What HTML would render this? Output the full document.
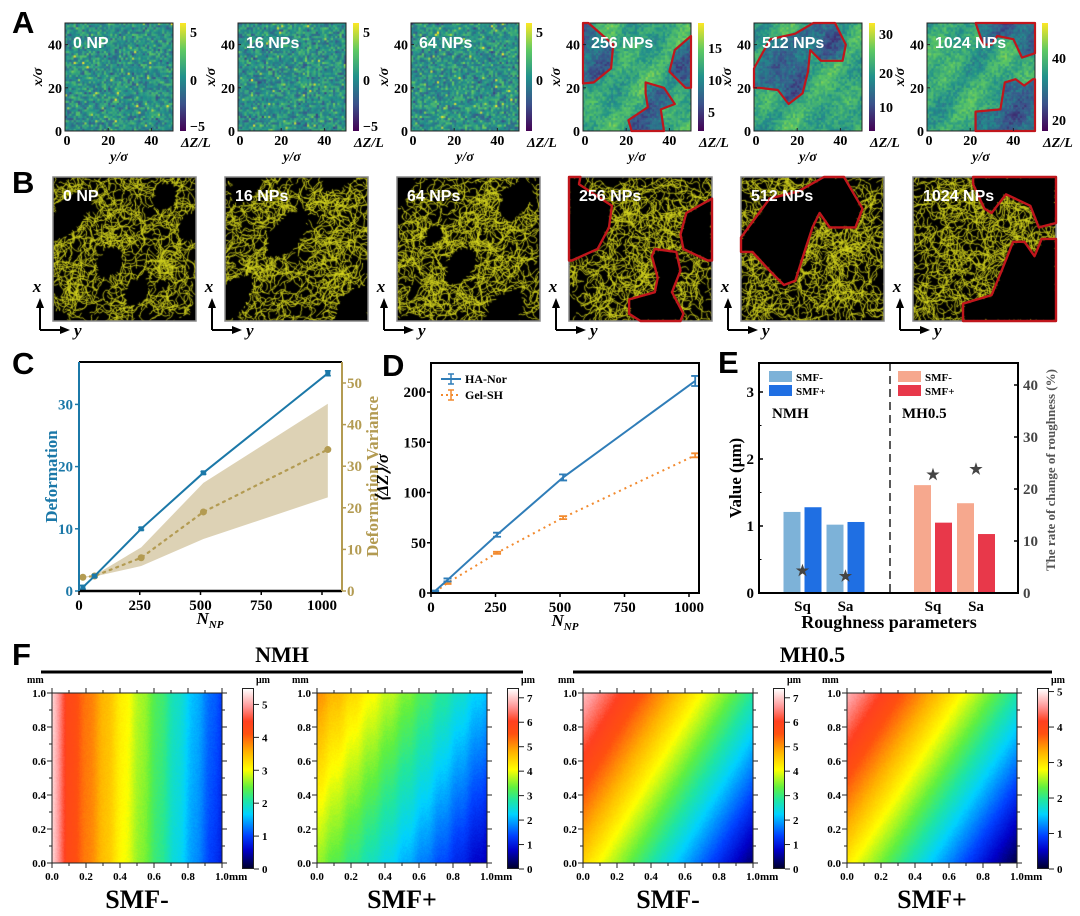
<!DOCTYPE html>
<html><head><meta charset="utf-8">
<style>
html,body{margin:0;padding:0;background:#fff;}
#root{position:relative;width:1080px;height:916px;overflow:hidden;background:#fff;}
canvas{position:absolute;}
svg{position:absolute;left:0;top:0;}
text{font-family:"Liberation Serif",serif;font-weight:bold;}
.lbl{font-family:"Liberation Sans",sans-serif;font-weight:bold;}
</style></head>
<body>
<div id="root">
<svg id="svg" width="1080" height="916"></svg>
</div>
<script>
// ===== Chart C data =====
const cN = [16, 64, 256, 512, 1024];
const cDeform = [0.6, 2.4, 10, 19, 35];
const cDeformErr = [0.3, 0.2, 0.2, 0.2, 0.4];
const cVar = [3.3, 3.6, 8, 19, 34];
const cVarLow = [3.2, 3.5, 6, 12.5, 22.5];
const cVarHigh = [3.4, 3.8, 10.5, 26, 45];
const cLeftTicks = [0, 10, 20, 30];
const cRightTicks = [0, 10, 20, 30, 40, 50];
const cXTicks = [0, 250, 500, 750, 1000];
// ===== Chart D data =====
const dN = [16, 64, 256, 512, 1024];
const dHA = [2, 13, 58, 115, 211];
const dHAErr = [0.5, 1.5, 2, 3, 5];
const dGel = [1, 10, 40, 75, 137];
const dGelErr = [0.5, 1, 1, 1.5, 2];
const dYTicks = [0, 50, 100, 150, 200];
const dXTicks = [0, 250, 500, 750, 1000];
// ===== Chart E data =====
const eCats = ["Sq", "Sa", "Sq", "Sa"];
const eSmfMinus = [1.21, 1.02, 1.61, 1.34];
const eSmfPlus = [1.28, 1.06, 1.05, 0.88];
const eRate = [4.5, 3.5, 23, 24];
const eLeftTicks = [0, 1, 2, 3];
const eRightTicks = [0, 10, 20, 30, 40];

const NS = "http://www.w3.org/2000/svg";
const svg = document.getElementById('svg');
const root = document.getElementById('root');
function el(tag, attrs, parent) {
  const e = document.createElementNS(NS, tag);
  for (const k in attrs) e.setAttribute(k, attrs[k]);
  (parent || svg).appendChild(e);
  return e;
}
function txt(x, y, s, size, opts, parent) {
  opts = opts || {};
  const t = el('text', {x: x, y: y, 'font-size': size, fill: opts.fill || '#000', 'text-anchor': opts.anchor || 'start'}, parent);
  if (opts.cls) t.setAttribute('class', opts.cls);
  if (opts.italic) t.setAttribute('font-style', 'italic');
  if (opts.rot) t.setAttribute('transform', 'rotate(' + opts.rot + ' ' + x + ' ' + y + ')');
  t.textContent = s;
  return t;
}
function mulberry(a) { return function() { a |= 0; a = a + 0x6D2B79F5 | 0; let t = Math.imul(a ^ a >>> 15, 1 | a); t = t + Math.imul(t ^ t >>> 7, 61 | t) ^ t; return ((t ^ t >>> 14) >>> 0) / 4294967296; }; }
function lerpStops(stops, t) {
  t = Math.max(0, Math.min(1, t));
  for (let i = 1; i < stops.length; i++) {
    if (t <= stops[i][0]) {
      const a = stops[i - 1], b = stops[i], f = (t - a[0]) / (b[0] - a[0] || 1);
      return [a[1] + (b[1] - a[1]) * f, a[2] + (b[2] - a[2]) * f, a[3] + (b[3] - a[3]) * f];
    }
  }
  const l = stops[stops.length - 1]; return [l[1], l[2], l[3]];
}
const VIR = [[0, 68, 1, 84], [0.25, 59, 82, 139], [0.5, 33, 145, 140], [0.75, 94, 201, 98], [1, 253, 231, 37]];
const JET = [[0, 0, 0, 48], [0.1, 0, 0, 200], [0.18, 0, 64, 255], [0.3, 0, 210, 255], [0.38, 32, 230, 160], [0.45, 96, 240, 64], [0.55, 255, 255, 0], [0.65, 255, 176, 0], [0.75, 255, 80, 16], [0.82, 255, 64, 32], [0.9, 255, 150, 150], [1, 255, 255, 255]];
function grad(stops) { return stops.map(s => 'rgb(' + s[1] + ',' + s[2] + ',' + s[3] + ') ' + (100 - s[0] * 100) + '%').reverse().join(','); }
function canvas(x, y, w, h, name) {
  const c = document.createElement('canvas');
  c.width = w; c.height = h; c.style.left = x + 'px'; c.style.top = y + 'px';
  
  
  root.insertBefore(c, svg);
  return c;
}
function inPoly(px, py, poly) {
  let inside = false;
  for (let i = 0, j = poly.length - 1; i < poly.length; j = i++) {
    const xi = poly[i][0], yi = poly[i][1], xj = poly[j][0], yj = poly[j][1];
    if (((yi > py) != (yj > py)) && (px < (xj - xi) * (py - yi) / (yj - yi) + xi)) inside = !inside;
  }
  return inside;
}
function polyPath(poly, x0, y0, w, h) {
  return poly.map((p, i) => (i ? 'L' : 'M') + (x0 + p[0] * w).toFixed(1) + ' ' + (y0 + p[1] * h).toFixed(1)).join(' ') + ' Z';
}
[['A', 12, 33], ['B', 12, 193], ['C', 12, 374], ['D', 382, 376], ['E', 718, 373], ['F', 12, 665]].forEach(p => {
  const t = txt(p[1], p[2], p[0], 31, {cls: 'lbl'});
  
  
});

// ===== Panel A =====
const labelsNP = ["0 NP", "16 NPs", "64 NPs", "256 NPs", "512 NPs", "1024 NPs"];
const A_X = [65, 238, 411, 583, 754, 927];
const AY = 23, AW = 108, AH = 108;
const A_POLYS = [[], [], [],
  [[[0,0],[0.05,0],[0.28,0.2],[0.26,0.42],[0.1,0.55],[0,0.56]], [[1,0.12],[0.85,0.25],[0.8,0.45],[0.95,0.6],[1,0.6]], [[0.58,0.55],[0.75,0.6],[0.85,0.75],[0.72,0.8],[0.75,1],[0.45,1],[0.42,0.9],[0.6,0.78],[0.58,0.65]]],
  [[[0,0.42],[0.15,0.15],[0.38,0.1],[0.55,0],[0.75,0],[0.85,0.2],[0.82,0.35],[0.62,0.35],[0.52,0.25],[0.5,0.45],[0.45,0.65],[0.32,0.75],[0.22,0.62],[0.05,0.6],[0,0.6]]],
  [[[0.45,0],[1,0],[1,0.28],[0.88,0.32],[0.8,0.15],[0.65,0.12],[0.6,0.2],[0.52,0.2]], [[0.45,1],[0.45,0.82],[0.68,0.8],[0.72,0.55],[0.82,0.52],[0.9,0.58],[0.98,0.52],[1,0.52],[1,1]]]
];
const A_CB = [[["5", 32], ["0", 80], ["\u22125", 126]], [["5", 32], ["0", 80], ["\u22125", 126]], [["5", 32], ["0", 80]], [["15", 48], ["10", 80], ["5", 112]], [["30", 34], ["20", 73], ["10", 107]], [["40", 58], ["20", 120]]];
A_X.forEach((ax, k) => {
  const c = canvas(ax, AY, AW, AH, 'deformation-map-' + k);
  const ctx = c.getContext('2d');
  const r = mulberry(11 + k);
  const N = 50, cs = AW / N;
  const ph = [r() * 6, r() * 6, r() * 6, r() * 6];
  for (let i = 0; i < N; i++) for (let j = 0; j < N; j++) {
    const fx = (i + 0.5) / N, fy = (j + 0.5) / N;
    let v;
    if (k < 3) v = 0.5 + (r() + r() + r() - 1.5) * 0.22 + (r() < 0.03 ? 0.3 : 0);
    else {
      v = 0.6 + 0.08 * Math.sin(fx * 9 + ph[0]) * Math.cos(fy * 7 + ph[1]) + 0.06 * Math.sin(fx * 17 + fy * 13 + ph[2]) + (r() - 0.5) * 0.2;
      for (const p of A_POLYS[k]) if (inPoly(fx, fy, p)) v -= 0.25;
    }
    const col = lerpStops(VIR, v);
    ctx.fillStyle = 'rgb(' + (col[0] | 0) + ',' + (col[1] | 0) + ',' + (col[2] | 0) + ')';
    ctx.fillRect(i * cs, j * cs, cs + 0.6, cs + 0.6);
  }
  const g = el('g', {});
  
  
  el('rect', {x: ax, y: AY, width: AW, height: AH, fill: 'none', stroke: '#222', 'stroke-width': 1}, g);
  A_POLYS[k].forEach(p => el('path', {d: polyPath(p, ax, AY, AW, AH), fill: 'none', stroke: '#c0161c', 'stroke-width': 2.2, 'stroke-linejoin': 'round'}, g));
  txt(ax + 8, AY + 25, labelsNP[k], 16, {cls: 'lbl', fill: '#fff'}, g);
  [0, 20, 40].forEach(v => {
    const px = ax + v / 50 * AW, py = AY + AH - v / 50 * AH;
    el('line', {x1: px, y1: AY + AH, x2: px, y2: AY + AH - 3, stroke: '#222'}, g);
    el('line', {x1: ax, y1: py, x2: ax + 3, y2: py, stroke: '#222'}, g);
    txt(px + (v === 0 ? 2 : 0), AY + AH + 14, String(v), 14, {anchor: 'middle'}, g);
    txt(ax - 3, py + 5, String(v), 14, {anchor: 'end'}, g);
  });
  txt(ax + AW / 2, AY + AH + 30, 'y/\u03c3', 14, {anchor: 'middle', italic: true}, g);
  txt(ax - 23, AY + AH / 2, 'x/\u03c3', 14, {anchor: 'middle', italic: true, rot: -90}, g);
  const cb = document.createElement('div');
  cb.style.cssText = 'position:absolute;left:' + (ax + 115) + 'px;top:' + AY + 'px;width:6px;height:' + AH + 'px;background:linear-gradient(to bottom,' + grad(VIR) + ')';
  
  
  root.insertBefore(cb, svg);
  A_CB[k].forEach(l => txt(ax + 125, l[1] + 5, l[0], 14, {}, g));
  txt(ax + 116, AY + AH + 16, '\u0394Z/L', 14, {italic: true}, g);
});

// ===== Panel B =====
const B_X = [53, 225, 397, 569, 741, 913];
const BY = 177, BW = 143, BH = 144;
const B_POLYS = [[], [], [],
  [[[0,0],[0.08,0],[0.07,0.05],[0.3,0.2],[0.28,0.35],[0.2,0.5],[0.02,0.58],[0,0.58]], [[1,0.15],[0.82,0.25],[0.78,0.4],[0.8,0.5],[0.97,0.58],[1,0.58]], [[0.6,0.5],[0.75,0.52],[0.78,0.65],[0.72,0.8],[0.8,0.95],[0.78,1],[0.5,1],[0.42,0.95],[0.42,0.85],[0.6,0.8],[0.62,0.7],[0.58,0.55]]],
  [[[0,0.42],[0.2,0.15],[0.4,0.1],[0.58,0],[0.72,0],[0.85,0.22],[0.8,0.35],[0.62,0.35],[0.55,0.25],[0.5,0.35],[0.45,0.5],[0.38,0.72],[0.3,0.75],[0.2,0.65],[0.08,0.52],[0,0.52]]],
  [[[0.42,0],[1,0],[1,0.32],[0.88,0.35],[0.82,0.2],[0.65,0.12],[0.55,0.25],[0.5,0.22],[0.42,0.05]], [[0.35,1],[0.35,0.88],[0.55,0.82],[0.62,0.65],[0.7,0.45],[0.78,0.45],[0.85,0.55],[0.9,0.43],[1,0.43],[1,1]]]
];
B_X.forEach((bx, k) => {
  const c = canvas(bx, BY, BW, BH, 'polymer-network-' + k);
  const ctx = c.getContext('2d');
  ctx.fillStyle = '#000'; ctx.fillRect(0, 0, BW, BH);
  const r = mulberry(101 + k);
  const ph = [r() * 6, r() * 6, r() * 6];
  ctx.strokeStyle = 'rgba(215,215,30,0.9)'; ctx.lineWidth = 0.9;
  for (let w = 0; w < 520; w++) {
    let x = r() * BW, y = r() * BH, a = r() * 6.28;
    ctx.beginPath(); ctx.moveTo(x, y);
    for (let s = 0; s < 14; s++) {
      a += (r() - 0.5) * 1.8; x += Math.cos(a) * 2.2; y += Math.sin(a) * 2.2;
      const fx = x / BW, fy = y / BH;
      let hole = false;
      for (const p of B_POLYS[k]) if (inPoly(fx, fy, p)) hole = true;
      if (k < 3 && Math.sin(fx * 8 + ph[0]) * Math.cos(fy * 7 + ph[1]) + 0.5 * Math.sin(fx * 13 + fy * 11 + ph[2]) > 0.6) hole = true;
      if (hole) ctx.moveTo(x, y); else ctx.lineTo(x, y);
    }
    ctx.stroke();
  }
  const g = el('g', {});
  
  
  el('rect', {x: bx, y: BY, width: BW, height: BH, fill: 'none', stroke: '#888', 'stroke-width': 1.5}, g);
  B_POLYS[k].forEach(p => el('path', {d: polyPath(p, bx, BY, BW, BH), fill: 'none', stroke: '#c0161c', 'stroke-width': 2.4, 'stroke-linejoin': 'round'}, g));
  txt(bx + 10, BY + 24, labelsNP[k], 16, {cls: 'lbl', fill: '#fff'}, g);
  const ox = bx - 13, oy = BY + BH + 9;
  el('path', {d: 'M' + ox + ' ' + oy + ' L' + ox + ' ' + (oy - 26) + ' M' + ox + ' ' + oy + ' L' + (ox + 24) + ' ' + oy, stroke: '#000', 'stroke-width': 2, fill: 'none'}, g);
  el('path', {d: 'M' + (ox - 4) + ' ' + (oy - 22) + ' L' + ox + ' ' + (oy - 32) + ' L' + (ox + 4) + ' ' + (oy - 22) + ' Z', fill: '#000'}, g);
  el('path', {d: 'M' + (ox + 20) + ' ' + (oy - 4) + ' L' + (ox + 30) + ' ' + oy + ' L' + (ox + 20) + ' ' + (oy + 4) + ' Z', fill: '#000'}, g);
  txt(ox - 3, oy - 38, 'x', 17, {italic: true, anchor: 'middle'}, g);
  txt(ox + 34, oy + 6, 'y', 17, {italic: true}, g);
});

// ===== Panel C =====
(function() {
  const L = 79, R = 342, T = 362, B = 591;
  const x = v => L + v / 1000 * 243;
  const yl = v => B - v * 6.22;
  const yr = v => B - v * 4.16;
  const blue = '#1b78a8', gold = '#b39b52';
  const g = el('g', {});
  
  
  const band = el('path', {d: 'M' + cN.map((n, i) => x(n) + ' ' + yr(cVarHigh[i])).join(' L') + ' L' + cN.slice().reverse().map((n, i) => x(n) + ' ' + yr(cVarLow[cN.length - 1 - i])).join(' L') + ' Z', fill: '#ddd2b5'}, g);
  
  
  const vl = el('polyline', {points: cN.map((n, i) => x(n) + ',' + yr(cVar[i])).join(' '), fill: 'none', stroke: gold, 'stroke-width': 2.2, 'stroke-dasharray': '2 5', 'stroke-linecap': 'round'}, g);
  
  
  cN.forEach((n, i) => { const p = el('circle', {cx: x(n), cy: yr(cVar[i]), r: 3.5, fill: gold}, g);   });
  const dl = el('polyline', {points: cN.map((n, i) => x(n) + ',' + yl(cDeform[i])).join(' '), fill: 'none', stroke: blue, 'stroke-width': 2}, g);
  
  
  cN.forEach((n, i) => {
    const e = el('path', {d: 'M' + (x(n) - 3) + ' ' + yl(cDeform[i] + cDeformErr[i]) + ' h6 M' + x(n) + ' ' + yl(cDeform[i] + cDeformErr[i]) + ' V' + yl(cDeform[i] - cDeformErr[i]) + ' M' + (x(n) - 3) + ' ' + yl(cDeform[i] - cDeformErr[i]) + ' h6', stroke: blue, 'stroke-width': 1.5, fill: 'none'}, g);
    
    
    el('rect', {x: x(n) - 2.5, y: yl(cDeform[i]) - 2.5, width: 5, height: 5, fill: blue}, g);
  });
  el('line', {x1: L, y1: T, x2: R, y2: T, stroke: '#000', 'stroke-width': 2}, g);
  el('line', {x1: L, y1: B, x2: R, y2: B, stroke: '#000', 'stroke-width': 2.5}, g);
  el('line', {x1: L, y1: T, x2: L, y2: B, stroke: blue, 'stroke-width': 2}, g);
  el('line', {x1: R, y1: T, x2: R, y2: B, stroke: gold, 'stroke-width': 2}, g);
  cLeftTicks.forEach(v => { el('line', {x1: L - 4, y1: yl(v), x2: L, y2: yl(v), stroke: blue, 'stroke-width': 1.5}, g); txt(L - 6, yl(v) + 5, String(v), 15, {anchor: 'end', fill: blue}, g); });
  cRightTicks.forEach(v => { el('line', {x1: R, y1: yr(v), x2: R + 4, y2: yr(v), stroke: gold, 'stroke-width': 1.5}, g); txt(R + 5, yr(v) + 5, String(v), 15, {fill: gold}, g); });
  cXTicks.forEach(v => { el('line', {x1: x(v), y1: B, x2: x(v), y2: B + 4, stroke: '#000', 'stroke-width': 1.5}, g); txt(x(v), B + 19, String(v), 15, {anchor: 'middle'}, g); });
  txt(57, (T + B) / 2, 'Deformation', 17, {anchor: 'middle', fill: blue, rot: -90}, g);
  txt(378, (T + B) / 2, 'Deformation Variance', 17, {anchor: 'middle', fill: gold, rot: -90}, g);
  const nl = txt(210, 624, 'N', 17, {anchor: 'middle', italic: true}, g);
  const sub = el('tspan', {'font-size': 11, dy: 4}, nl); sub.textContent = 'NP';
})();

// ===== Panel D =====
(function() {
  const L = 431, R = 699, T = 363, B = 593;
  const x = v => L + v * 0.258;
  const y = v => B - v * 1.005;
  const blue = '#2f7db8', orange = '#f28a2e';
  const g = el('g', {});
  
  
  function series(vals, errs, col, dash, name) {
    const l = el('polyline', {points: dN.map((n, i) => x(n) + ',' + y(vals[i])).join(' '), fill: 'none', stroke: col, 'stroke-width': 2, 'stroke-dasharray': dash}, g);
    
    
    dN.forEach((n, i) => {
      const e = el('path', {d: 'M' + (x(n) - 4) + ' ' + y(vals[i] + errs[i]) + ' h8 M' + x(n) + ' ' + y(vals[i] + errs[i]) + ' V' + y(vals[i] - errs[i]) + ' M' + (x(n) - 4) + ' ' + y(vals[i] - errs[i]) + ' h8', stroke: col, 'stroke-width': 1.8, fill: 'none'}, g);
      
      
    });
  }
  series(dGel, dGelErr, orange, '2 4', 'gel-sh');
  series(dHA, dHAErr, blue, '', 'ha-nor');
  el('rect', {x: L, y: T, width: R - L, height: B - T, fill: 'none', stroke: '#000', 'stroke-width': 2}, g);
  dYTicks.forEach(v => { el('line', {x1: L, y1: y(v), x2: L - 4, y2: y(v), stroke: '#000', 'stroke-width': 1.5}, g); txt(L - 5, y(v) + 5, String(v), 15, {anchor: 'end'}, g); });
  dXTicks.forEach(v => { el('line', {x1: x(v), y1: B, x2: x(v), y2: B + 4, stroke: '#000', 'stroke-width': 1.5}, g); txt(x(v), B + 19, String(v), 15, {anchor: 'middle'}, g); });
  txt(388, (T + B) / 2, '\u27e8\u0394Z\u27e9/\u03c3', 17, {anchor: 'middle', rot: -90, italic: true}, g);
  const nl = txt(565, 626, 'N', 17, {anchor: 'middle', italic: true}, g);
  const sub = el('tspan', {'font-size': 11, dy: 4}, nl); sub.textContent = 'NP';
  const lg = el('g', {}, g);
  
  
  el('line', {x1: 441, y1: 379, x2: 461, y2: 379, stroke: blue, 'stroke-width': 2}, lg);
  el('path', {d: 'M448 374 h6 M451 374 V384 M448 384 h6', stroke: blue, 'stroke-width': 1.5, fill: 'none'}, lg);
  txt(465, 383, 'HA-Nor', 12, {}, lg);
  el('line', {x1: 441, y1: 395, x2: 461, y2: 395, stroke: orange, 'stroke-width': 2, 'stroke-dasharray': '2 3'}, lg);
  el('path', {d: 'M448 390 h6 M451 390 V400 M448 400 h6', stroke: orange, 'stroke-width': 1.5, fill: 'none'}, lg);
  txt(465, 399, 'Gel-SH', 12, {}, lg);
})();

// ===== Panel E =====
(function() {
  const L = 759, R = 1018, T = 363, B = 593;
  const y = v => B - v * 67;
  const yr = v => B - v * 5.2;
  const gx = i => i < 2 ? 802.5 + 43 * i : 933 + 43 * (i - 2);
  const g = el('g', {});
  
  
  const colsM = ['#7db2d8', '#7db2d8', '#f6a88e', '#f6a88e'];
  const colsP = ['#1f6fe3', '#1f6fe3', '#e8384a', '#e8384a'];
  eCats.forEach((c, i) => {
    const b1 = el('rect', {x: gx(i) - 19, y: y(eSmfMinus[i]), width: 17, height: B - y(eSmfMinus[i]), fill: colsM[i]}, g);
    
    
    const b2 = el('rect', {x: gx(i) + 2, y: y(eSmfPlus[i]), width: 17, height: B - y(eSmfPlus[i]), fill: colsP[i]}, g);
    
    
    const s = txt(gx(i), yr(eRate[i]) + 6, '\u2605', 15, {anchor: 'middle', fill: '#444'}, g);
    
    
    txt(gx(i), B + 18, c, 15, {anchor: 'middle'}, g);
  });
  el('line', {x1: 890, y1: T, x2: 890, y2: B, stroke: '#222', 'stroke-width': 1.5, 'stroke-dasharray': '8 5'}, g);
  el('rect', {x: L, y: T, width: R - L, height: B - T, fill: 'none', stroke: '#000', 'stroke-width': 2}, g);
  eLeftTicks.forEach(v => { el('line', {x1: L, y1: y(v), x2: L + 4, y2: y(v), stroke: '#000', 'stroke-width': 1.5}, g); txt(L - 5, y(v) + 5, String(v), 15, {anchor: 'end'}, g); });
  [0.5, 1.5, 2.5].forEach(v => el('line', {x1: L, y1: y(v), x2: L + 2.5, y2: y(v), stroke: '#000'}, g));
  eRightTicks.forEach(v => { el('line', {x1: R, y1: yr(v), x2: R - 4, y2: yr(v), stroke: '#000', 'stroke-width': 1.5}, g); txt(R + 5, yr(v) + 5, String(v), 15, {fill: '#444'}, g); });
  txt(741, (T + B) / 2, 'Value (\u03bcm)', 17, {anchor: 'middle', rot: -90}, g);
  txt(1055, 470, 'The rate of change of roughness (%)', 13, {anchor: 'middle', rot: -90, fill: '#555'}, g);
  txt(889, 628, 'Roughness parameters', 18, {anchor: 'middle'}, g);
  const lg = el('g', {}, g);
  
  
  el('rect', {x: 769, y: 371, width: 23, height: 11, fill: '#7db2d8'}, lg);
  el('rect', {x: 769, y: 385, width: 23, height: 11, fill: '#1f6fe3'}, lg);
  txt(796, 381, 'SMF-', 11, {}, lg); txt(796, 395, 'SMF+', 11, {}, lg);
  el('rect', {x: 898, y: 371, width: 23, height: 11, fill: '#f6a88e'}, lg);
  el('rect', {x: 898, y: 385, width: 23, height: 11, fill: '#e8384a'}, lg);
  txt(925, 381, 'SMF-', 11, {}, lg); txt(925, 395, 'SMF+', 11, {}, lg);
  txt(772, 418, 'NMH', 15, {}, g);
  txt(902, 418, 'MH0.5', 15, {}, g);
})();

// ===== Panel F =====
const F_X = [52, 317, 583, 847];
const FY = 693, FW = 170, FH = 170;
const F_MAX = [5.5, 7.4, 7.4, 5.1];
const F_TICKS = [[0, 1, 2, 3, 4, 5], [0, 1, 2, 3, 4, 5, 6, 7], [0, 1, 2, 3, 4, 5, 6, 7], [0, 1, 2, 3, 4, 5]];
const F_TITLES = ['SMF-', 'SMF+', 'SMF-', 'SMF+'];
function fField(k, fx, fy, r) {
  const band = 0.006 * Math.sin(fx * 60);
  if (k === 0) return 0.85 - 0.68 * fx - 0.04 * (1 - fy) * fx + band + (r() - 0.5) * 0.015 + (fx < 0.08 ? 0.09 * (1 - fx / 0.08) + 0.02 : 0);
  if (k === 1) return 0.68 - 0.4 * fx - 0.2 * (1 - fy) + band + (r() - 0.5) * 0.015;
  if (k === 2) return 0.6 - 0.56 * fx + 0.34 * fy + (r() - 0.5) * 0.012;
  return 0.57 - 0.56 * fx + 0.36 * fy + (r() - 0.5) * 0.012;
}
F_X.forEach((fxp, k) => {
  const c = canvas(fxp, FY, FW, FH, 'surface-map-' + k);
  const ctx = c.getContext('2d');
  const img = ctx.createImageData(FW, FH);
  const r = mulberry(500 + k);
  for (let j = 0; j < FH; j++) for (let i = 0; i < FW; i++) {
    const col = lerpStops(JET, fField(k, i / FW, 1 - j / FH, r));
    const o = (j * FW + i) * 4;
    img.data[o] = col[0]; img.data[o + 1] = col[1]; img.data[o + 2] = col[2]; img.data[o + 3] = 255;
  }
  ctx.putImageData(img, 0, 0);
  const g = el('g', {});
  
  
  el('rect', {x: fxp, y: FY, width: FW, height: FH, fill: 'none', stroke: '#222', 'stroke-width': 1}, g);
  for (let t = 0; t <= 10; t++) {
    const px = fxp + t / 10 * FW, py = FY + FH - t / 10 * FH, len = t % 2 ? 3 : 5;
    el('line', {x1: px, y1: FY + FH, x2: px, y2: FY + FH + len, stroke: '#222'}, g);
    el('line', {x1: px, y1: FY, x2: px, y2: FY - len, stroke: '#222'}, g);
    el('line', {x1: fxp, y1: py, x2: fxp - len, y2: py, stroke: '#222'}, g);
    el('line', {x1: fxp + FW, y1: py, x2: fxp + FW + len, y2: py, stroke: '#222'}, g);
    if (t % 2 === 0) {
      txt(px, FY + FH + 17, (t / 10).toFixed(1), 11, {anchor: 'middle'}, g);
      txt(fxp - 6, py + 4, (t / 10).toFixed(1), 11, {anchor: 'end'}, g);
    }
  }
  txt(fxp - 25, FY - 10, 'mm', 10, {}, g);
  txt(fxp + FW + 7, FY + FH + 17, 'mm', 11, {}, g);
  const cbx = fxp + 190, cbt = 688, cbb = 869;
  const cb = document.createElement('div');
  cb.style.cssText = 'position:absolute;left:' + cbx + 'px;top:' + cbt + 'px;width:12px;height:' + (cbb - cbt) + 'px;border:1px solid #222;box-sizing:border-box;background:linear-gradient(to bottom,' + grad(JET) + ')';
  
  
  root.insertBefore(cb, svg);
  F_TICKS[k].forEach(v => {
    const py = cbb - v / F_MAX[k] * (cbb - cbt);
    el('line', {x1: cbx + 12, y1: py, x2: cbx + 17, y2: py, stroke: '#222'}, g);
    txt(cbx + 20, py + 4, String(v), 11, {}, g);
  });
  txt(cbx + 14, 683, '\u03bcm', 10, {}, g);
  txt(fxp + FW / 2, 908, F_TITLES[k], 26, {anchor: 'middle'}, g);
});
[['NMH', 41, 523], ['MH0.5', 573, 1052]].forEach(h => {
  const g = el('g', {});
  
  
  el('line', {x1: h[1], y1: 672, x2: h[2], y2: 672, stroke: '#000', 'stroke-width': 3}, g);
  txt((h[1] + h[2]) / 2, 662, h[0], 22, {anchor: 'middle'}, g);
});
</script>
</body></html>
